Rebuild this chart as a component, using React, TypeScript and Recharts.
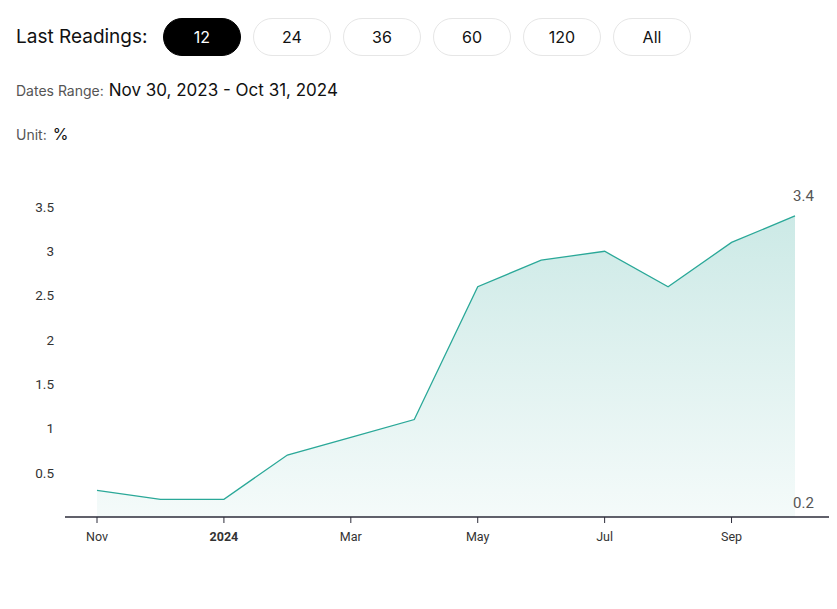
import React from 'react';
import { Area, AreaChart, ReferenceDot, XAxis, YAxis } from 'recharts';

const months = ['Nov', 'Dec', 'Jan', 'Feb', 'Mar', 'Apr', 'May', 'Jun', 'Jul', 'Aug', 'Sep', 'Oct'];
const values = [0.3, 0.2, 0.2, 0.7, 0.9, 1.1, 2.6, 2.9, 3.0, 2.6, 3.1, 3.4];
const yTicks = [0.5, 1, 1.5, 2, 2.5, 3, 3.5];
const buttons = ['12', '24', '36', '60', '120', 'All'];

const data = months.map((m, i) => ({ month: m, value: values[i] }));
const lastValue = values[values.length - 1];
const minValue = Math.min(...values);

const FONT = 'Roboto, "Noto Sans", sans-serif';
const HEAD_FONT = 'Inter, Roboto, sans-serif';

function MonthTick(props: any) {
  const { x, y, payload } = props;
  const isYear = payload.value === 'Jan';
  return (
    <text
      x={x}
      y={y}
      dy="0.71em"
      textAnchor="middle"
      fontSize={12.5}
      fontFamily={FONT}
      fontWeight={isYear ? 700 : 400}
      fill="#333"
    >
      {isYear ? '2024' : payload.value}
    </text>
  );
}

function EndLabel({ viewBox, value, dy }: any) {
  const { x, y } = viewBox;
  return (
    <text x={x - 2} y={y + dy} textAnchor="start" fontSize={15} fontFamily={FONT} fill="#555">
      {value}
    </text>
  );
}

export default function App() {
  return (
    <div style={{ position: 'relative', width: 829, height: 590, fontFamily: HEAD_FONT, color: '#111' }}>
      <div style={{ position: 'absolute', left: 8, top: 17, fontSize: 19 }}>Last Readings:</div>
      {buttons.map((b, i) => (
        <div
          key={b}
          style={{
            position: 'absolute',
            left: 155 + i * 90,
            top: 10,
            width: 78,
            height: 38,
            boxSizing: 'border-box',
            borderRadius: 19,
            border: i === 0 ? '1px solid #000' : '1px solid #e6e6e6',
            background: i === 0 ? '#000' : '#fff',
            color: i === 0 ? '#fff' : '#111',
            fontSize: 16,
            display: 'flex',
            alignItems: 'center',
            justifyContent: 'center',
          }}
        >
          {b}
        </div>
      ))}
      <div style={{ position: 'absolute', left: 8, top: 72, display: 'flex', alignItems: 'baseline' }}>
        <span style={{ fontSize: 14, color: '#555' }}>Dates Range:</span>
        <span style={{ fontSize: 17, marginLeft: 5 }}>Nov 30, 2023 - Oct 31, 2024</span>
      </div>
      <div style={{ position: 'absolute', left: 8, top: 116, display: 'flex', alignItems: 'baseline' }}>
        <span style={{ fontSize: 14, color: '#555' }}>Unit:</span>
        <span style={{ fontSize: 16, marginLeft: 6 }}>%</span>
      </div>
      <div style={{ position: 'absolute', left: 0, top: 160 }}>
        <AreaChart width={822} height={389} data={data} margin={{ top: 39, right: 0, bottom: 0, left: 0 }}>
          <defs>
            <linearGradient id="fill" x1="0" y1="0" x2="0" y2="1">
              <stop offset="0%" stopColor="#2ba597" stopOpacity={0.24} />
              <stop offset="100%" stopColor="#2ba597" stopOpacity={0.05} />
            </linearGradient>
          </defs>
          <XAxis
            dataKey="month"
            interval={1}
            padding={{ left: 32, right: 35 }}
            height={40}
            tick={<MonthTick />}
            tickSize={6}
            tickMargin={9}
            stroke="#2d2d3a"
            axisLine={{ stroke: '#2d2d3a', strokeWidth: 1.3 }}
            tickLine={{ stroke: '#2d2d3a' }}
          />
          <YAxis
            width={57}
            domain={[0, 3.5]}
            ticks={yTicks}
            axisLine={false}
            tickLine={false}
            tickMargin={5}
            tick={{ fontSize: 13.5, fill: '#333', fontFamily: FONT }}
          />
          <Area
            type="linear"
            dataKey="value"
            stroke="#2aa898"
            strokeWidth={1.3}
            fill="url(#fill)"
            fillOpacity={1}
            isAnimationActive={false}
            dot={false}
            activeDot={false}
          />
          <ReferenceDot
            x="Oct"
            y={lastValue}
            r={0}
            label={<EndLabel value={String(lastValue)} dy={-15} />}
          />
          <ReferenceDot
            x="Oct"
            y={minValue}
            r={0}
            label={<EndLabel value={String(minValue)} dy={9} />}
          />
        </AreaChart>
      </div>
    </div>
  );
}
